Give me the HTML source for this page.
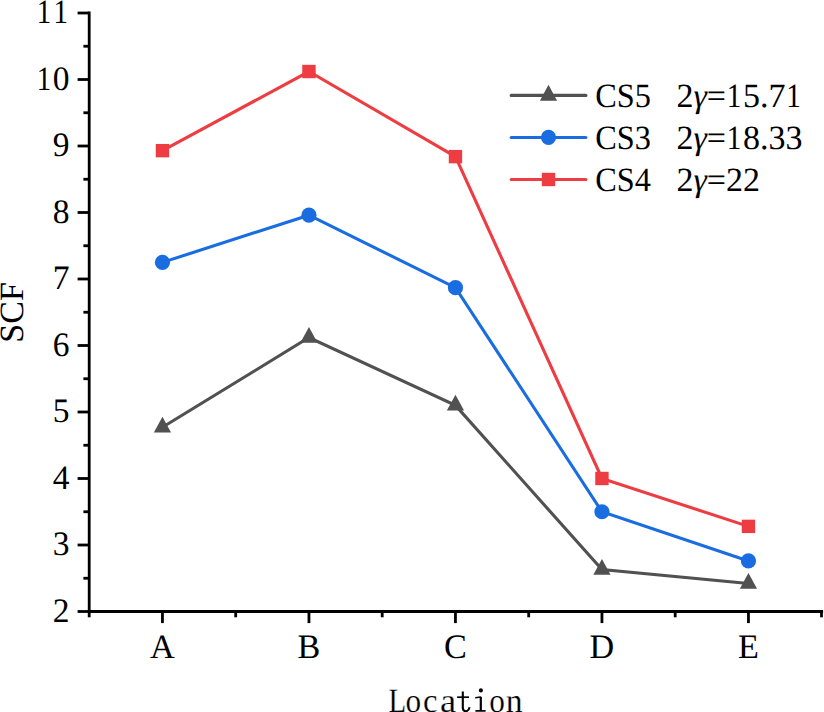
<!DOCTYPE html>
<html><head><meta charset="utf-8"><style>
html,body{margin:0;padding:0;background:#fff;}
svg{display:block;text-rendering:geometricPrecision;}
.t{font-family:"Liberation Serif",serif;font-size:34.2px;fill:#000;}
.l{font-family:"Liberation Serif",serif;font-size:34px;fill:#000;}
.m{font-family:"Liberation Serif",serif;font-size:34px;fill:#000;stroke:#fff;stroke-width:0.2px;}
</style></head><body>
<svg width="824" height="712" viewBox="0 0 824 712">
<line x1="89.2" y1="11.60" x2="89.2" y2="611.5" stroke="#000" stroke-width="2.8"/>
<line x1="89.2" y1="611.5" x2="823.10" y2="611.5" stroke="#000" stroke-width="2.8"/>
<line x1="77.60" y1="611.50" x2="89.2" y2="611.50" stroke="#000" stroke-width="2.8"/>
<line x1="83.40" y1="578.25" x2="89.2" y2="578.25" stroke="#000" stroke-width="2.8"/>
<line x1="77.60" y1="545.00" x2="89.2" y2="545.00" stroke="#000" stroke-width="2.8"/>
<line x1="83.40" y1="511.75" x2="89.2" y2="511.75" stroke="#000" stroke-width="2.8"/>
<line x1="77.60" y1="478.50" x2="89.2" y2="478.50" stroke="#000" stroke-width="2.8"/>
<line x1="83.40" y1="445.25" x2="89.2" y2="445.25" stroke="#000" stroke-width="2.8"/>
<line x1="77.60" y1="412.00" x2="89.2" y2="412.00" stroke="#000" stroke-width="2.8"/>
<line x1="83.40" y1="378.75" x2="89.2" y2="378.75" stroke="#000" stroke-width="2.8"/>
<line x1="77.60" y1="345.50" x2="89.2" y2="345.50" stroke="#000" stroke-width="2.8"/>
<line x1="83.40" y1="312.25" x2="89.2" y2="312.25" stroke="#000" stroke-width="2.8"/>
<line x1="77.60" y1="279.00" x2="89.2" y2="279.00" stroke="#000" stroke-width="2.8"/>
<line x1="83.40" y1="245.75" x2="89.2" y2="245.75" stroke="#000" stroke-width="2.8"/>
<line x1="77.60" y1="212.50" x2="89.2" y2="212.50" stroke="#000" stroke-width="2.8"/>
<line x1="83.40" y1="179.25" x2="89.2" y2="179.25" stroke="#000" stroke-width="2.8"/>
<line x1="77.60" y1="146.00" x2="89.2" y2="146.00" stroke="#000" stroke-width="2.8"/>
<line x1="83.40" y1="112.75" x2="89.2" y2="112.75" stroke="#000" stroke-width="2.8"/>
<line x1="77.60" y1="79.50" x2="89.2" y2="79.50" stroke="#000" stroke-width="2.8"/>
<line x1="83.40" y1="46.25" x2="89.2" y2="46.25" stroke="#000" stroke-width="2.8"/>
<line x1="77.60" y1="13.00" x2="89.2" y2="13.00" stroke="#000" stroke-width="2.8"/>
<line x1="162.45" y1="611.5" x2="162.45" y2="623.10" stroke="#000" stroke-width="2.8"/>
<line x1="308.95" y1="611.5" x2="308.95" y2="623.10" stroke="#000" stroke-width="2.8"/>
<line x1="455.45" y1="611.5" x2="455.45" y2="623.10" stroke="#000" stroke-width="2.8"/>
<line x1="601.95" y1="611.5" x2="601.95" y2="623.10" stroke="#000" stroke-width="2.8"/>
<line x1="748.45" y1="611.5" x2="748.45" y2="623.10" stroke="#000" stroke-width="2.8"/>
<line x1="89.20" y1="611.5" x2="89.20" y2="617.30" stroke="#000" stroke-width="2.8"/>
<line x1="235.70" y1="611.5" x2="235.70" y2="617.30" stroke="#000" stroke-width="2.8"/>
<line x1="382.20" y1="611.5" x2="382.20" y2="617.30" stroke="#000" stroke-width="2.8"/>
<line x1="528.70" y1="611.5" x2="528.70" y2="617.30" stroke="#000" stroke-width="2.8"/>
<line x1="675.20" y1="611.5" x2="675.20" y2="617.30" stroke="#000" stroke-width="2.8"/>
<line x1="821.50" y1="611.5" x2="821.50" y2="617.30" stroke="#000" stroke-width="2.8"/>
<g transform="translate(69.50 621.50) scale(0.98 1)"><text x="-17.10" y="0.00" class="t" style="font-size:34.2px">2</text></g>
<g transform="translate(69.50 555.00) scale(0.98 1)"><text x="-17.10" y="0.00" class="t" style="font-size:34.2px">3</text></g>
<g transform="translate(69.50 488.50) scale(0.98 1)"><text x="-17.10" y="0.00" class="t" style="font-size:34.2px">4</text></g>
<g transform="translate(69.50 422.00) scale(0.98 1)"><text x="-17.10" y="0.00" class="t" style="font-size:34.2px">5</text></g>
<g transform="translate(69.50 355.50) scale(0.98 1)"><text x="-17.10" y="0.00" class="t" style="font-size:34.2px">6</text></g>
<g transform="translate(69.50 289.00) scale(0.98 1)"><text x="-17.10" y="0.00" class="t" style="font-size:34.2px">7</text></g>
<g transform="translate(69.50 222.50) scale(0.98 1)"><text x="-17.10" y="0.00" class="t" style="font-size:34.2px">8</text></g>
<g transform="translate(69.50 156.00) scale(0.98 1)"><text x="-17.10" y="0.00" class="t" style="font-size:34.2px">9</text></g>
<g transform="translate(69.50 89.50) scale(0.98 1)"><text transform="translate(-25.95 0.00) scale(0.86 1)" text-anchor="middle" class="t" style="font-size:34.2px">1</text><text x="-17.10" y="0.00" class="t" style="font-size:34.2px">0</text></g>
<g transform="translate(69.50 23.00) scale(0.98 1)"><text transform="translate(-25.95 0.00) scale(0.86 1)" text-anchor="middle" class="t" style="font-size:34.2px">1</text><text transform="translate(-8.85 0.00) scale(0.86 1)" text-anchor="middle" class="t" style="font-size:34.2px">1</text></g>
<text x="162.45" y="658" text-anchor="middle" class="t">A</text>
<text x="308.95" y="658" text-anchor="middle" class="t">B</text>
<text x="455.45" y="658" text-anchor="middle" class="t">C</text>
<text x="601.95" y="658" text-anchor="middle" class="t">D</text>
<text x="748.45" y="658" text-anchor="middle" class="t">E</text>
<text transform="translate(397.3 711.5) scale(0.85 1)" text-anchor="middle" class="m">L</text>
<text transform="translate(413.4 711.5) scale(0.92 1)" text-anchor="middle" class="m">o</text>
<text transform="translate(430.2 711.5) scale(0.96 1)" text-anchor="middle" class="m">c</text>
<text transform="translate(448.0 711.5) scale(1.07 1)" text-anchor="middle" class="m">a</text>
<text transform="translate(497.1 711.5) scale(0.92 1)" text-anchor="middle" class="m">o</text>
<text transform="translate(514.1 711.5) scale(0.99 1)" text-anchor="middle" class="m">n</text>
<g fill="none" stroke="#000" stroke-linecap="butt"><path d="M462.8 691.6V707.6Q462.8 711.2 465.8 711.2Q468.6 711.2 469.6 707.2" stroke-width="2.1"/><path d="M457.1 697.2H469" stroke-width="1.7"/><path d="M480.8 696.8V711" stroke-width="2.2"/><path d="M475.2 697.7L480.8 697.1" stroke-width="1.5"/><path d="M475.4 710.9H485.6" stroke-width="1.7"/></g><circle cx="480.9" cy="690.4" r="2.05" fill="#000"/>
<text transform="translate(23.3 312.4) rotate(-90)" text-anchor="middle" class="t" style="font-size:34px">SCF</text>
<polyline points="162.45,427.30 308.95,337.52 455.45,405.35 601.95,569.61 748.45,583.57" fill="none" stroke="#515151" stroke-width="3.1" stroke-linejoin="miter"/><path d="M162.45 416.76L171.05 432.56L153.85 432.56Z" fill="#515151"/><path d="M308.95 326.99L317.55 342.79L300.35 342.79Z" fill="#515151"/><path d="M455.45 394.82L464.05 410.62L446.85 410.62Z" fill="#515151"/><path d="M601.95 559.07L610.55 574.87L593.35 574.87Z" fill="#515151"/><path d="M748.45 573.04L757.05 588.84L739.85 588.84Z" fill="#515151"/>
<polyline points="162.45,262.38 308.95,215.16 455.45,287.64 601.95,511.75 748.45,560.96" fill="none" stroke="#1a6de0" stroke-width="3.1" stroke-linejoin="miter"/><circle cx="162.45" cy="262.38" r="7.6" fill="#1a6de0"/><circle cx="308.95" cy="215.16" r="7.6" fill="#1a6de0"/><circle cx="455.45" cy="287.64" r="7.6" fill="#1a6de0"/><circle cx="601.95" cy="511.75" r="7.6" fill="#1a6de0"/><circle cx="748.45" cy="560.96" r="7.6" fill="#1a6de0"/>
<polyline points="162.45,150.66 308.95,71.52 455.45,156.64 601.95,478.50 748.45,526.38" fill="none" stroke="#ee3d42" stroke-width="3.1" stroke-linejoin="miter"/><rect x="155.75" y="143.96" width="13.4" height="13.4" fill="#ee3d42"/><rect x="302.25" y="64.82" width="13.4" height="13.4" fill="#ee3d42"/><rect x="448.75" y="149.94" width="13.4" height="13.4" fill="#ee3d42"/><rect x="595.25" y="471.80" width="13.4" height="13.4" fill="#ee3d42"/><rect x="741.75" y="519.68" width="13.4" height="13.4" fill="#ee3d42"/>
<line x1="511.2" y1="95.40" x2="585.9" y2="95.40" stroke="#515151" stroke-width="3.1" stroke-linecap="round"/>
<path d="M548.50 84.87L557.10 100.67L539.90 100.67Z" fill="#515151"/>
<text transform="translate(595.2 106.60) scale(0.95 1)" class="l">CS5</text>
<text x="676.40" y="106.60" class="l" style="font-size:34px">2<tspan font-style="italic">γ</tspan>=</text><text transform="translate(734.18 106.60) scale(0.86 1)" text-anchor="middle" class="l" style="font-size:34px">1</text><text x="742.97" y="106.60" class="l" style="font-size:34px">5.7</text><text transform="translate(793.68 106.60) scale(0.86 1)" text-anchor="middle" class="l" style="font-size:34px">1</text>
<line x1="511.2" y1="137.45" x2="585.9" y2="137.45" stroke="#1a6de0" stroke-width="3.1" stroke-linecap="round"/>
<circle cx="548.50" cy="137.45" r="7.6" fill="#1a6de0"/>
<text transform="translate(595.2 148.65) scale(0.95 1)" class="l">CS3</text>
<text x="676.40" y="148.65" class="l" style="font-size:34px">2<tspan font-style="italic">γ</tspan>=</text><text transform="translate(734.18 148.65) scale(0.86 1)" text-anchor="middle" class="l" style="font-size:34px">1</text><text x="742.97" y="148.65" class="l" style="font-size:34px">8.33</text>
<line x1="511.2" y1="179.50" x2="585.9" y2="179.50" stroke="#ee3d42" stroke-width="3.1" stroke-linecap="round"/>
<rect x="541.80" y="172.80" width="13.4" height="13.4" fill="#ee3d42"/>
<text transform="translate(595.2 190.70) scale(0.95 1)" class="l">CS4</text>
<text x="676.40" y="190.70" class="l" style="font-size:34px">2<tspan font-style="italic">γ</tspan>=22</text>
</svg>
</body></html>
